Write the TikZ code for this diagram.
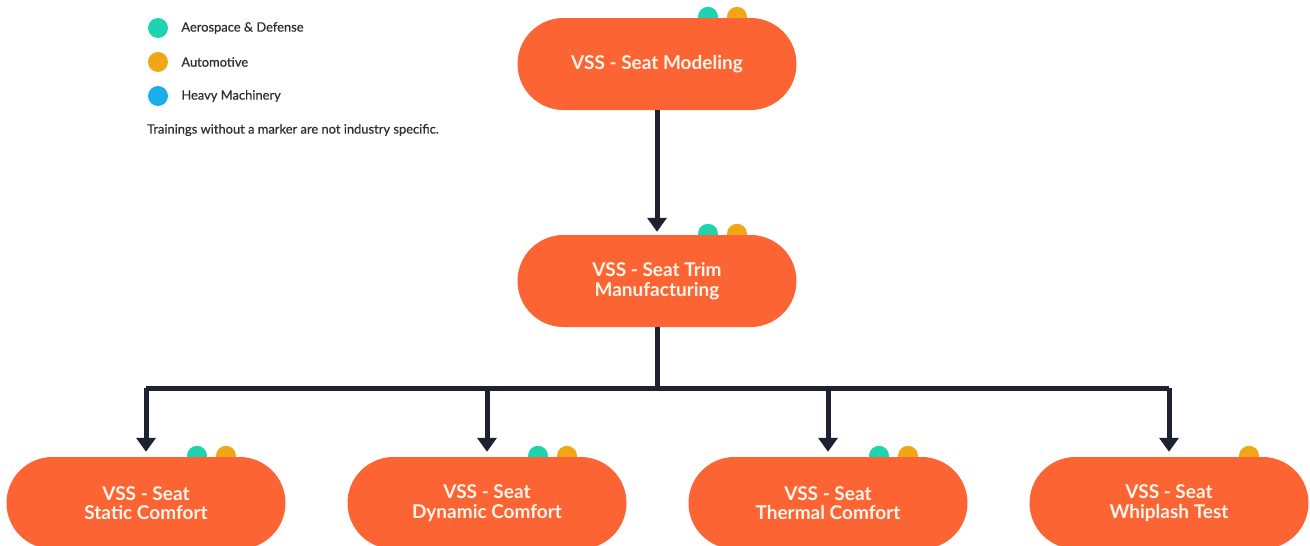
\documentclass[tikz,border=0pt]{standalone}
\usepackage{fontspec}
\setmainfont{Lato}
\newfontfamily\legfont[FakeBold=0.6]{Lato}
\usetikzlibrary{positioning,calc,arrows.meta,backgrounds}
\definecolor{pillc}{HTML}{FC6434}
\definecolor{aeroc}{HTML}{1DD3B0}
\definecolor{autoc}{HTML}{F2A516}
\definecolor{heavyc}{HTML}{1AAEEB}
\definecolor{linkc}{HTML}{1E2230}
\definecolor{txtc}{HTML}{2E2E36}
\begin{document}
\begin{tikzpicture}[x=1pt, y=-1pt,
  course/.style={fill=pillc, text=white!92!orange, rounded corners=46pt,
    minimum width=279pt, minimum height=92pt, align=center,
    font=\bfseries\fontsize{19}{19.5}\selectfont},
  dot/.style={circle, fill=#1, minimum size=20pt, inner sep=0pt},
  legtxt/.style={text=txtc, inner sep=0pt, font=\legfont\fontsize{12.9}{14}\selectfont},
  link/.style={draw=linkc, line width=5pt, -{Triangle[length=14pt,width=19pt]}},
  bar/.style={draw=linkc, line width=5pt}]
  \useasboundingbox (0,0) rectangle (1310,546);

  % legend
  \node[dot=aeroc]  (la) at (158,28) {};
  \node[dot=autoc]  (lb) at (158,62) {};
  \node[dot=heavyc] (lc) at (158,96) {};
  \node[legtxt, right=13pt of la] {Aerospace \& Defense};
  \node[legtxt, right=13pt of lb] {Automotive};
  \node[legtxt, right=13pt of lc] {Heavy Machinery};
  \node[legtxt, anchor=west] (note) at (147,130) {Trainings without a marker are not industry specific.};

  % trainings
  \node[course] (sm) at (657,64)  {VSS - Seat Modeling};
  \node[course] (tm) at (657,281) {VSS - Seat Trim\\Manufacturing};
  \node[course] (sc) at (146,503) {VSS - Seat\\Static Comfort};
  \node[course] (dc) at (487,503) {VSS - Seat\\Dynamic Comfort};
  \node[course] (tc) at (828,503) {VSS - Seat\\Thermal Comfort};
  \node[course] (wt) at (1169,503) {VSS - Seat\\Whiplash Test};

  % markers
  \begin{scope}[on background layer]
    \foreach \n in {sm,tm,sc,dc,tc}
      \fill[aeroc] ($(\n.north)+(51,-1)$) circle (10);
    \foreach \n in {sm,tm,sc,dc,tc,wt}
      \fill[autoc] ($(\n.north)+(80,-1)$) circle (10);
  \end{scope}

  % connectors
  \draw[link, shorten >=3pt] (sm) -- (tm);
  \coordinate (bus) at ($(tm.south)+(0,61)$);
  \draw[bar] (tm) -- (bus);
  \draw[bar] (bus -| sc) -- (bus -| wt);
  \foreach \n in {sc,dc,tc,wt}
    \draw[link, shorten >=5pt] (bus -| \n) -- (\n);
\end{tikzpicture}
\end{document}
